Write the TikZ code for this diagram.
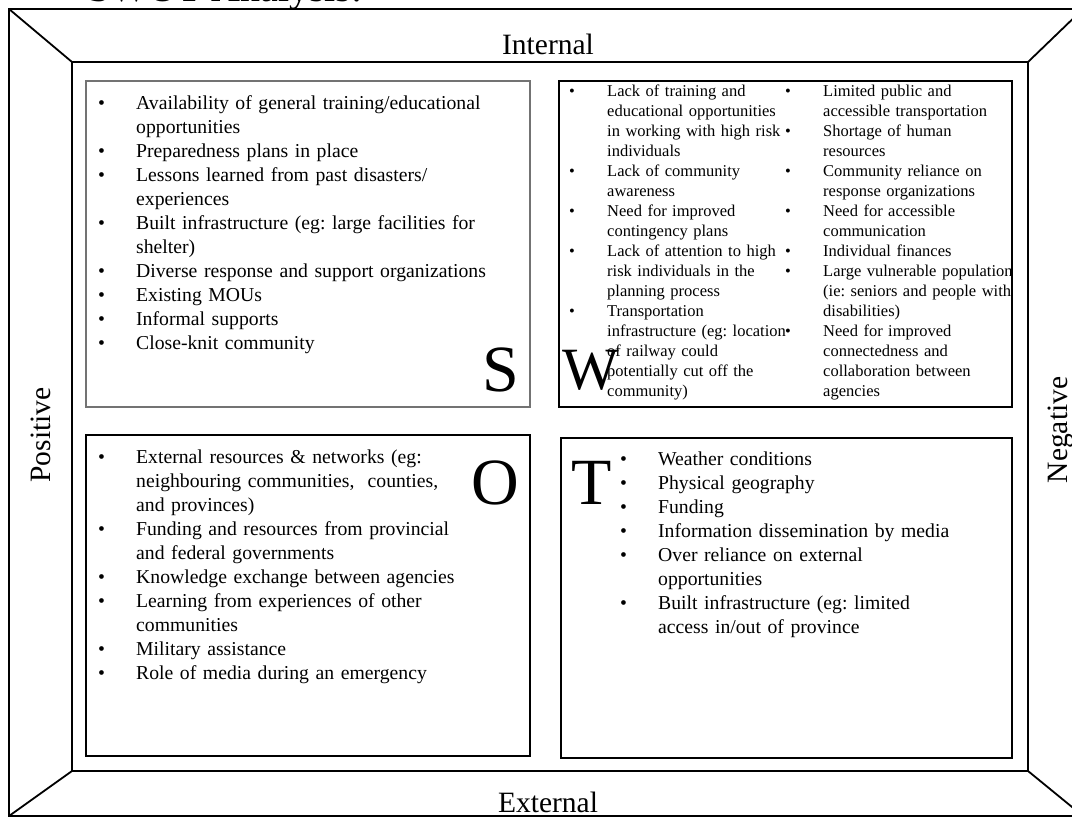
\documentclass[tikz,border=0pt]{standalone}
\usepackage{fontspec}
\setmainfont{Liberation Serif}
\newlength{\bulletgap}
\setlength{\bulletgap}{38pt}
\newcommand{\swotitem}[1]{\noindent\hangindent=\bulletgap\hangafter=1\makebox[\bulletgap][l]{\textbullet}#1\par}
\begin{document}
\frenchspacing
\begin{tikzpicture}[x=1pt,y=-1pt,frame line/.style={line width=1.8pt},quad box/.style={draw=black, line width=1.8pt},strength box/.style={draw=black!55, line width=2.4pt},item list/.style={anchor=base west, inner sep=0pt, align=left, text width=#1, font=\fontsize{19.7}{24}\selectfont, execute at begin node=\setlength{\parskip}{0pt}},small list/.style={item list=#1, font=\fontsize{16.5}{20}\selectfont},quad letter/.style={anchor=base west, inner sep=0pt, font=\fontsize{66}{70}\selectfont},side label/.style={anchor=base, inner sep=0pt, font=\fontsize{29.5}{34}\selectfont},title node/.style={anchor=base west, inner sep=0pt, font=\fontsize{40}{46}\selectfont}]%
\path[use as bounding box] (0,0) rectangle (1072,818);%
\clip (0,0) rectangle (1072,818);%
  % Frame%
\coordinate (outer nw) at (9,9);%
\coordinate (outer ne) at (1083,9);%
\coordinate (outer se) at (1083,816);%
\coordinate (outer sw) at (9,816);%
\coordinate (inner nw) at (72,62);%
\coordinate (inner ne) at (1028,62);%
\coordinate (inner se) at (1028,771);%
\coordinate (inner sw) at (72,771);%
\draw[frame line] (outer nw) -- (outer ne) -- (outer se) -- (outer sw) -- cycle;%
\draw[frame line] (inner nw) -- (inner ne) -- (inner se) -- (inner sw) -- cycle;%
\foreach \corner in {nw,ne,se,sw} \draw[frame line] (outer \corner) -- (inner \corner);%
\node[title node] (title) at (88,2) {SWOT Analysis:};%
\node[side label] (internal) at (548,55) {Internal};%
\node[side label] (external) at (548,812) {External};%
\node[side label, rotate=90] (positive) at (50,435) {Positive};%
\node[side label, rotate=90] (negative) at (1067,430) {Negative};%
  % Strengths%
\draw[strength box] (86,81) rectangle (530,407);%
\node[item list=430pt] (strengths) at (98,110) {\swotitem{Availability of general training/educational\newline opportunities}\swotitem{Preparedness plans in place}\swotitem{Lessons learned from past disasters/\newline experiences}\swotitem{Built infrastructure (eg: large facilities for\newline shelter)}\swotitem{Diverse response and support organizations}\swotitem{Existing MOUs}\swotitem{Informal supports}\swotitem{Close-knit community}};%
\node[quad letter] (S) at (482,392) {S};%
  % Weaknesses%
\draw[quad box] (559,81) rectangle (1012,407);%
\node[small list=300pt] (weak left) at (569,97) {\swotitem{Lack of training and\newline educational opportunities\newline in working with high risk\newline individuals}\swotitem{Lack of community\newline awareness}\swotitem{Need for improved\newline contingency plans}\swotitem{Lack of attention to high\newline risk individuals in the\newline planning process}\swotitem{Transportation\newline infrastructure (eg: location\newline of railway could\newline potentially cut off the\newline community)}};%
\node[small list=300pt] (weak right) at (785,97) {\swotitem{Limited public and\newline accessible transportation}\swotitem{Shortage of human\newline resources}\swotitem{Community reliance on\newline response organizations}\swotitem{Need for accessible\newline communication}\swotitem{Individual finances}\swotitem{Large vulnerable population\newline (ie: seniors and people with\newline disabilities)}\swotitem{Need for improved\newline connectedness and\newline collaboration between\newline agencies}};%
\node[quad letter, font=\fontsize{60}{64}\selectfont] (W) at (562,390) {W};%
  % Opportunities%
\draw[quad box] (86,435) rectangle (530,756);%
\node[item list=430pt] (opportunities) at (98,464) {\swotitem{External resources \& networks (eg:\newline neighbouring communities,~ counties,\newline and provinces)}\swotitem{Funding and resources from provincial\newline and federal governments}\swotitem{Knowledge exchange between agencies}\swotitem{Learning from experiences of other\newline communities}\swotitem{Military assistance}\swotitem{Role of media during an emergency}};%
\node[quad letter] (O) at (471,504) {O};%
  % Threats%
\draw[quad box] (561,438) rectangle (1012,758);%
\node[item list=380pt] (threats) at (620,466) {\swotitem{Weather conditions}\swotitem{Physical geography}\swotitem{Funding}\swotitem{Information dissemination by media}\swotitem{Over reliance on external\newline opportunities}\swotitem{Built infrastructure (eg: limited\newline access in/out of province}};%
\node[quad letter] (T) at (571,504) {T};%
\end{tikzpicture}
\end{document}
